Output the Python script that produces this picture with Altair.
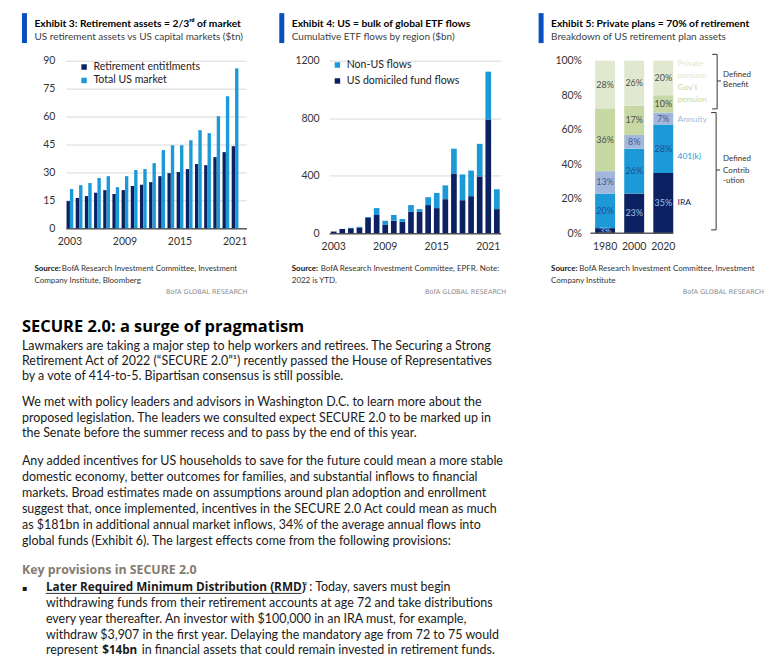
import altair as alt
import pandas as pd

# ---------------- data ----------------
years_ex3 = list(range(2003, 2022))
retirement_entitlements = [14.6, 16.3, 17.3, 19.1, 20.5, 18.4, 20.5, 22.7, 23.4, 24.8,
                           28.0, 29.6, 30.2, 31.8, 34.5, 33.9, 38.2, 40.9, 44.1]
total_us_market = [21.1, 23.2, 24.3, 27.0, 28.0, 22.1, 28.0, 31.3, 31.8, 35.0,
                   42.0, 44.6, 44.6, 47.3, 52.7, 51.1, 60.2, 70.9, 85.9]
series_ex3 = ["Retirement entitlments", "Total US market"]
x_ticks_ex3 = [2003, 2009, 2015, 2021]
y_ticks_ex3 = [0, 15, 30, 45, 60, 75, 90]

years_ex4 = list(range(2003, 2023))
us_domiciled = [12, 30, 35, 40, 106, 127, 58, 87, 80, 149,
                149, 196, 175, 237, 416, 230, 258, 395, 791, 168]
non_us = [0, 0, 3, 5, 7, 48, 29, 40, 19, 47,
          19, 55, 105, 96, 172, 179, 178, 227, 333, 138]
series_ex4 = ["Non-US flows", "US domiciled fund flows"]
x_ticks_ex4 = [2003, 2009, 2015, 2021]
y_ticks_ex4 = [0, 400, 800, 1200]

periods_ex5 = ["1980", "2000", "2020"]
plan_types = ["IRA", "401(k)", "Annuity", "Gov't pension", "Private pension"]
ira_share = [3, 23, 35]
k401_share = [20, 26, 28]
annuity_share = [13, 8, 7]
govt_pension_share = [36, 17, 10]
private_pension_share = [28, 26, 20]
y_ticks_ex5 = [0, 20, 40, 60, 80, 100]

heading = "SECURE 2.0: a surge of pragmatism"
body_lines = [
    "Lawmakers are taking a major step to help workers and retirees. The Securing a Strong",
    "Retirement Act of 2022 (\u201cSECURE 2.0\u201d\u00b9) recently passed the House of Representatives",
    "by a vote of 414-to-5. Bipartisan consensus is still possible.",
    "We met with policy leaders and advisors in Washington D.C. to learn more about the",
    "proposed legislation. The leaders we consulted expect SECURE 2.0 to be marked up in",
    "the Senate before the summer recess and to pass by the end of this year.",
    "Any added incentives for US households to save for the future could mean a more stable",
    "domestic economy, better outcomes for families, and substantial inflows to financial",
    "markets. Broad estimates made on assumptions around plan adoption and enrollment",
    "suggest that, once implemented, incentives in the SECURE 2.0 Act could mean as much",
    "as $181bn in additional annual market inflows, 34% of the average annual flows into",
    "global funds (Exhibit 6). The largest effects come from the following provisions:",
]
key_heading = "Key provisions in SECURE 2.0"
bullet_lines = [
    "withdrawing funds from their retirement accounts at age 72 and take distributions",
    "every year thereafter. An investor with $100,000 in an IRA must, for example,",
    "withdraw $3,907 in the first year. Delaying the mandatory age from 72 to 75 would",
]

# ---------------- style ----------------
CH = "Lato"
BODY = "Lato"
HEAD = "Open Sans"
NAVY = "#0c2161"
BLUE = "#1c9ad8"
ACCENT = "#0a4fc0"
GRID = "#d9d9d9"
DOMAIN = "#595959"
PLAN_COLORS = [NAVY, BLUE, "#a3b7dd", "#c6d8a4", "#e0e9cf"]
PLAN_TEXT = ["#9cc3ea", "#1d4f8f", "#44598a", "#4d4d4d", "#4d4d4d"]
BODY_SIZE = 12.5

O3 = (66, 59.7)
O4 = (330, 59.7)
O5 = (585, 59.7)


def txt(s, px, py, origin, **kw):
    ox, oy = origin
    style = dict(align="left", baseline="alphabetic", font=BODY, fontSize=12, color="#111")
    style.update(kw)
    return alt.Chart(pd.DataFrame({"t": [s]})).mark_text(**style).encode(
        text="t:N", x=alt.value(px - ox), y=alt.value(py - oy))


def rect(x1, y1, x2, y2, origin, color):
    ox, oy = origin
    return alt.Chart(pd.DataFrame({"k": [0]})).mark_rect(color=color).encode(
        x=alt.value(x1 - ox), x2=alt.value(x2 - ox), y=alt.value(y1 - oy), y2=alt.value(y2 - oy))


def seg(x1, y1, x2, y2, origin, color="#333", width=1.0):
    ox, oy = origin
    return alt.Chart(pd.DataFrame({"k": [0]})).mark_rule(color=color, strokeWidth=width).encode(
        x=alt.value(x1 - ox), x2=alt.value(x2 - ox), y=alt.value(y1 - oy), y2=alt.value(y2 - oy))


def header(origin, bar_x, title, subtitle, src1, src_rest_x, src2, brand_right):
    tx = bar_x + 12.5
    return [
        rect(bar_x, 12, bar_x + 5, 42, origin, ACCENT),
        txt(title, tx, 26, origin, font=CH, fontSize=10.3, fontWeight="bold", color="#000"),
        txt(subtitle, tx, 38.5, origin, font=CH, fontSize=10, color="#404040"),
        txt("Source:", tx, 270.5, origin, fontSize=8, fontWeight="bold", color="#111"),
        txt(src1, src_rest_x, 270.5, origin, fontSize=8, color="#333"),
        txt(src2, tx, 283, origin, fontSize=8, color="#333"),
        txt("BofA GLOBAL RESEARCH", brand_right, 294, origin, align="right",
            font="DejaVu Sans", fontSize=6.6, color="#8a8a8a"),
    ]


def legend(x, y, row_pad):
    return alt.Legend(title=None, orient="none", legendX=x, legendY=y,
                      symbolType="square", symbolSize=30, symbolStrokeWidth=0,
                      labelFont=CH, labelFontSize=10.6, labelColor="#222",
                      rowPadding=row_pad, labelOffset=4, padding=0)


# ---------------- Exhibit 3 ----------------
df3 = pd.DataFrame({
    "year": years_ex3 * 2,
    "series": [series_ex3[0]] * len(years_ex3) + [series_ex3[1]] * len(years_ex3),
    "value": retirement_entitlements + total_us_market,
})
bars3 = alt.Chart(df3).mark_bar().encode(
    x=alt.X("year:O", title=None,
            scale=alt.Scale(paddingInner=0.265, paddingOuter=0.47, align=0.08),
            axis=alt.Axis(values=x_ticks_ex3, labelAngle=0, labelPadding=8, grid=False,
                          domain=True, domainColor=DOMAIN, domainWidth=1.5)),
    xOffset=alt.XOffset("series:N", sort=series_ex3, scale=alt.Scale(paddingInner=0, paddingOuter=0)),
    y=alt.Y("value:Q", title=None, scale=alt.Scale(domain=[0, 90], nice=False),
            axis=alt.Axis(values=y_ticks_ex3, grid=True, domain=False, labelPadding=11)),
    color=alt.Color("series:N", sort=series_ex3,
                    scale=alt.Scale(domain=series_ex3, range=[NAVY, BLUE]),
                    legend=legend(13, 1, 2.5)),
)

layers3 = [bars3] + header(O3, 22, "Exhibit 3: Retirement assets = 2/3\u02b3\u1d48 of market",
                           "US retirement assets vs US capital markets ($tn)",
                           "BofA Research Investment Committee, Investment", 62,
                           "Company Institute, Bloomberg", 248)

# body text (anchored to exhibit 3's frame)
layers3.append(txt(heading, 22, 332, O3, font=HEAD, fontSize=16.5, fontWeight="bold", color="#000"))
body_y = [349.3, 364.8, 380.3, 406.3, 421.8, 437.3, 465.3, 481, 497, 513, 529, 545]
for s, yy in zip(body_lines, body_y):
    layers3.append(txt(s, 22, yy, O3, fontSize=BODY_SIZE, color="#1a1a1a"))
layers3.append(txt(key_heading, 22, 574, O3, font=HEAD, fontSize=12.4, fontWeight="bold", color="#857a70"))
layers3.append(txt("\u25aa", 22, 591.5, O3, font="DejaVu Sans", fontSize=8, color="#1a1a1a"))
layers3.append(txt("Later Required Minimum Distribution (RMD)", 46, 591.5, O3,
                   font=HEAD, fontSize=11.8, fontWeight="bold", color="#1a1a1a"))
layers3.append(seg(46, 593.8, 302.5, 593.8, O3, color="#1a1a1a", width=0.9))
layers3.append(txt("\u00b2", 305, 589.5, O3, fontSize=8.5, color="#1a1a1a"))
layers3.append(txt(": Today, savers must begin", 310, 591.5, O3, fontSize=BODY_SIZE, color="#1a1a1a"))
for s, yy in zip(bullet_lines, [607.3, 623.2, 639]):
    layers3.append(txt(s, 46, yy, O3, fontSize=BODY_SIZE, color="#1a1a1a"))
layers3.append(txt("represent", 46, 655, O3, fontSize=BODY_SIZE, color="#1a1a1a"))
layers3.append(txt("$14bn", 102.5, 655, O3, font=HEAD, fontSize=11.7, fontWeight="bold", color="#1a1a1a"))
layers3.append(txt("in financial assets that could remain invested in retirement funds.", 142, 655, O3,
                   fontSize=BODY_SIZE, color="#1a1a1a"))

ex3 = alt.layer(*layers3).properties(width=181, height=168)

# ---------------- Exhibit 4 ----------------
df4 = pd.DataFrame({
    "year": years_ex4 * 2,
    "series": [series_ex4[1]] * len(years_ex4) + [series_ex4[0]] * len(years_ex4),
    "value": us_domiciled + non_us,
})
bars4 = alt.Chart(df4).transform_calculate(
    ord="datum.series == 'US domiciled fund flows' ? 0 : 1"
).mark_bar().encode(
    x=alt.X("year:O", title=None,
            scale=alt.Scale(paddingInner=0.338, paddingOuter=0.157, align=0.63),
            axis=alt.Axis(values=x_ticks_ex4, labelAngle=0, labelPadding=8, grid=False,
                          domain=True, domainColor=DOMAIN, domainWidth=1.5)),
    y=alt.Y("value:Q", title=None, stack="zero", scale=alt.Scale(domain=[0, 1200], nice=False),
            axis=alt.Axis(values=y_ticks_ex4, format="d", grid=True, domain=False, labelPadding=10)),
    color=alt.Color("series:N", sort=series_ex4,
                    scale=alt.Scale(domain=series_ex4, range=[BLUE, NAVY]),
                    legend=legend(3, -1, 5)),
    order=alt.Order("ord:Q"),
)
layers4 = [bars4] + header(O4, 280, "Exhibit 4: US = bulk of global ETF flows",
                           "Cumulative ETF flows by region ($bn)",
                           "BofA Research Investment Committee, EPFR. Note:", 321.5,
                           "2022 is YTD.", 507.5)
ex4 = alt.layer(*layers4).properties(width=172, height=173)

# ---------------- Exhibit 5 ----------------
df5 = pd.DataFrame({
    "period": periods_ex5 * len(plan_types),
    "plan": [p for p in plan_types for _ in periods_ex5],
    "rank": [i for i in range(len(plan_types)) for _ in periods_ex5],
    "share": ira_share + k401_share + annuity_share + govt_pension_share + private_pension_share,
})
base5 = alt.Chart(df5).transform_stack(
    stack="share", groupby=["period"], as_=["y0", "y1"],
    sort=[alt.SortField("rank", order="ascending")],
)
x_scale5 = alt.Scale(paddingInner=0.315, paddingOuter=0.2, align=1)
x_axis5 = alt.Axis(labelAngle=0, labelPadding=8, grid=False, domain=False)
y_scale5 = alt.Scale(domain=[0, 100], nice=False)
y_axis5 = alt.Axis(values=y_ticks_ex5, labelExpr="datum.value + '%'", grid=False,
                   domain=False, labelPadding=2, labelOverlap=False)

bars5 = base5.mark_bar().encode(
    x=alt.X("period:N", title=None, scale=x_scale5, axis=x_axis5),
    y=alt.Y("y0:Q", title=None, scale=y_scale5, axis=y_axis5),
    y2="y1:Q",
    color=alt.Color("plan:N", scale=alt.Scale(domain=plan_types, range=PLAN_COLORS), legend=None),
)
labels5 = base5.transform_calculate(
    mid="(datum.y0 + datum.y1) / 2", lab="datum.share + '%'"
).mark_text(font=CH, fontSize=9).encode(
    x=alt.X("period:N", title=None, scale=x_scale5, axis=x_axis5),
    y=alt.Y("mid:Q", title=None, scale=y_scale5, axis=y_axis5),
    text="lab:N",
    color=alt.Color("plan:N", scale=alt.Scale(domain=plan_types, range=PLAN_TEXT), legend=None),
)
base_rule5 = alt.Chart(pd.DataFrame({"k": [0]})).mark_rule(color=DOMAIN, strokeWidth=1.5).encode(
    y=alt.Y(datum=0, title=None, scale=y_scale5, axis=y_axis5), x=alt.value(7), x2=alt.value(90))

layers5 = [bars5, labels5, base_rule5] + header(
    O5, 540, "Exhibit 5: Private plans = 70% of retirement",
    "Breakdown of US retirement plan assets",
    "BofA Research Investment Committee, Investment", 580.7,
    "Company Institute", 766)

lab_x = 679.3
for s, yy, c in [("Private", 65.3, PLAN_COLORS[4]), ("pension", 77, PLAN_COLORS[4]),
                 ("Gov't", 89, PLAN_COLORS[3]), ("pension", 101.3, PLAN_COLORS[3]),
                 ("Annuity", 121.3, PLAN_COLORS[2]), ("401(k)", 158, PLAN_COLORS[1]),
                 ("IRA", 204.7, PLAN_COLORS[0])]:
    layers5.append(txt(s, lab_x, yy, O5, font=CH, fontSize=8.5, color=c))

# brackets
layers5 += [
    seg(719, 53.3, 719, 108, O5), seg(714, 53.3, 719, 53.3, O5), seg(714, 108, 719, 108, O5),
    seg(719, 80, 723, 80, O5),
    seg(718, 111.7, 718, 229.3, O5), seg(713, 111.7, 718, 111.7, O5), seg(713, 229.3, 718, 229.3, O5),
    seg(718, 169.3, 722, 169.3, O5),
]
for s, yy in [("Defined", 75.7), ("Benefit", 86.3), ("Defined", 160.3), ("Contrib", 172), ("-ution", 182.3)]:
    layers5.append(txt(s, 725, yy, O5, font=CH, fontSize=8, color="#333"))

ex5 = alt.layer(*layers5).resolve_scale(color="independent").properties(width=90, height=173)

chart = alt.hconcat(ex3, ex4, ex5, spacing=83, bounds="flush").resolve_scale(
    color="independent"
).properties(
    padding={"left": 14, "top": 4, "right": 4, "bottom": 4},
    background="white",
).configure_view(strokeWidth=0).configure_axis(
    labelFont=CH, labelFontSize=10.5, labelColor="#333", ticks=False, tickSize=0,
    gridColor=GRID, gridWidth=1,
)

chart.save("out.html", embed_options={"renderer": "svg", "actions": False})
